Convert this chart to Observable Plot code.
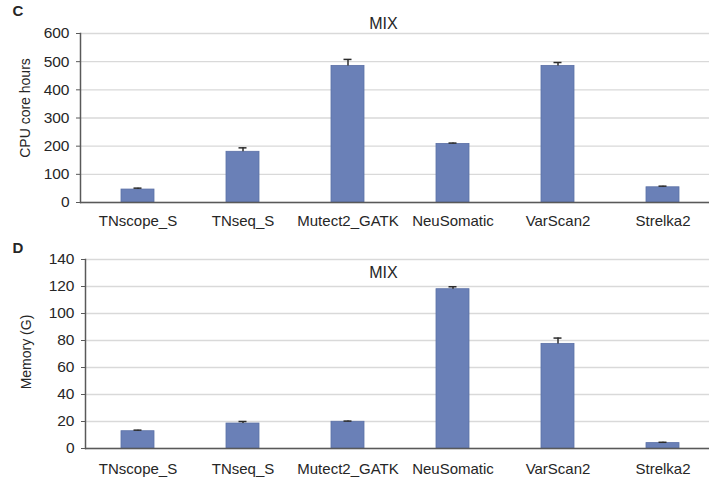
<!DOCTYPE html>
<html><head><meta charset="utf-8">
<script src="https://cdn.jsdelivr.net/npm/d3@7"></script>
<script src="https://cdn.jsdelivr.net/npm/@observablehq/plot@0.6"></script>
<style>
html,body{margin:0;padding:0;background:#fff;overflow:hidden;}
#wrap{width:709px;height:481px;overflow:hidden;position:relative;background:#fff;}
#wrap svg{display:block;max-width:none !important;}
</style></head><body><div id="wrap"></div>
<script>
const tools = ["TNscope_S","TNseq_S","Mutect2_GATK","NeuSomatic","VarScan2","Strelka2"];
const cpuHours = [46, 180, 485, 208, 485, 54];
const cpuErr = [5, 14, 23, 3, 12, 4];
const memoryG = [12.8, 18.5, 19.8, 118, 77.5, 4];
const memErr = [0.8, 1.5, 0.5, 1.8, 4.3, 0.6];
const cpuTicks = [0, 100, 200, 300, 400, 500, 600];
const memTicks = [0, 20, 40, 60, 80, 100, 120, 140];
const panelTitle = "MIX";
const cpuLabel = "CPU core hours";
const memLabel = "Memory (G)";

function panel(o) {
  const data = tools.map((t, i) => ({tool: t, v: o.values[i], e: o.errs[i]}));
  const ticks = o.ticks;
  return Plot.plot({
    width: o.width, height: o.height,
    marginLeft: o.marginLeft, marginRight: 0, marginTop: o.marginTop, marginBottom: o.marginBottom,
    style: {fontFamily: "'Liberation Sans', Arial, sans-serif", color: "#262626", background: "#fff", overflow: "visible", maxWidth: "none"},
    x: {domain: tools, paddingInner: 0.69, paddingOuter: o.paddingOuter, label: null},
    y: {domain: [0, ticks[ticks.length - 1]], label: null},
    marks: [
      Plot.gridY(ticks, {stroke: "#d9d9d9", strokeOpacity: 1, strokeWidth: 1.3}),
      Plot.barY(data, {x: "tool", y: "v", fill: "#6a80b7", stroke: "#5b70a6", strokeWidth: 0.8}),
      Plot.ruleX(data, {x: "tool", y1: "v", y2: d => d.v + d.e, stroke: "#2b2b2b", strokeWidth: 1.5}),
      Plot.tickY(data, {x: "tool", y: d => d.v + d.e, stroke: "#2b2b2b", strokeWidth: 1.5, insetLeft: 12.5, insetRight: 12.5}),
      Plot.axisY(ticks, {tickSize: 4, tickPadding: 7, fontSize: 15.5, label: null, stroke: "#595959"}),
      Plot.frame({anchor: "left", stroke: "#595959", strokeWidth: 1.5}),
      Plot.ruleY([0], {stroke: "#595959", strokeWidth: 1.5}),
      Plot.axisX({tickSize: 0, tickPadding: o.xPad, fontSize: 15, label: null}),
      Plot.text([o.yLabel], {frameAnchor: "left", textAnchor: "middle", rotate: -90, fontSize: 14, dx: o.labelDx, dy: o.labelDy}),
      Plot.text([panelTitle], {frameAnchor: "top", textAnchor: "middle", fontSize: 16, dx: -17, dy: o.titleDy, lineAnchor: o.titleAnchor}),
      Plot.text([o.letter], {frameAnchor: "top-left", textAnchor: "start", lineAnchor: "top", fontWeight: "bold", fontSize: 15, dx: o.letterDx, dy: o.letterDy})
    ]
  });
}

const wrap = document.getElementById("wrap");
wrap.appendChild(panel({
  values: cpuHours, errs: cpuErr, ticks: cpuTicks, yLabel: cpuLabel, letter: "C",
  width: 720, height: 240, marginLeft: 80, marginTop: 33, marginBottom: 38, paddingOuter: 0.376, xPad: 13,
  titleDy: -5, titleAnchor: "bottom", labelDx: -55, labelDy: -10, letterDx: -68, letterDy: -28
}));
wrap.appendChild(panel({
  values: memoryG, errs: memErr, ticks: memTicks, yLabel: memLabel, letter: "D",
  width: 715, height: 241, marginLeft: 85, marginTop: 19, marginBottom: 33, paddingOuter: 0.345, xPad: 15,
  titleDy: 7, titleAnchor: "top", labelDx: -59, labelDy: -2, letterDx: -73, letterDy: -17
}));
</script></body></html>
